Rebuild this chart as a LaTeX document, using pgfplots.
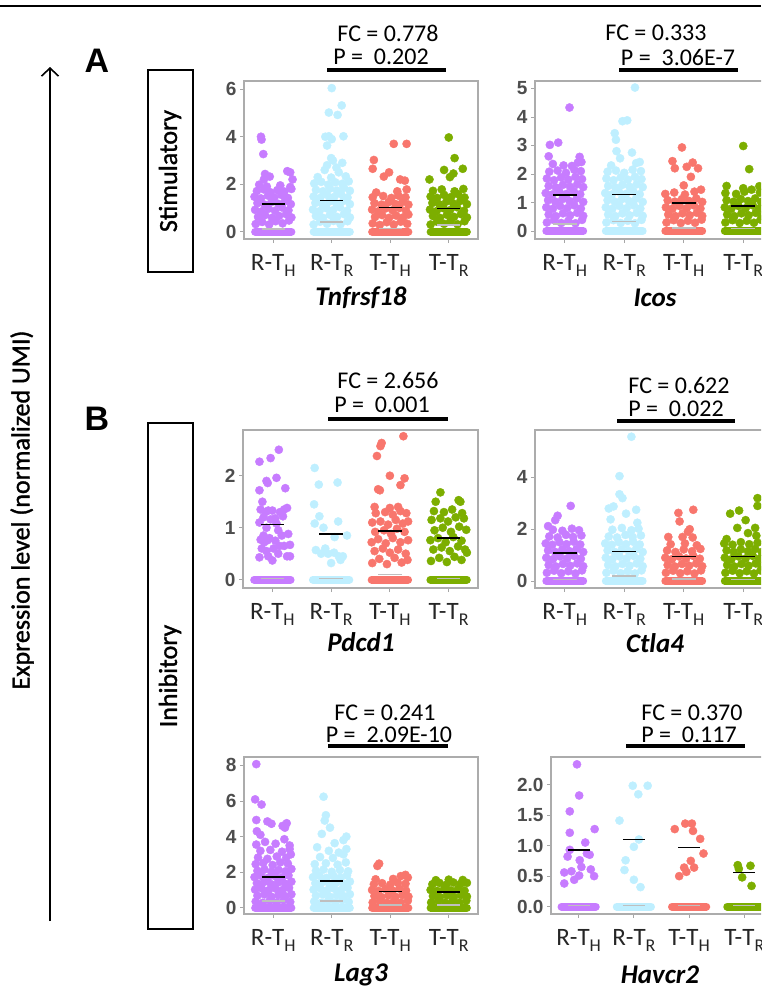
\documentclass[border=0pt]{standalone}
\usepackage{fontspec}
\setmainfont{Carlito}
\newfontfamily\tickfont{Liberation Sans}
\newfontfamily\semib{Carlito}[FakeBold=1.3]
\usepackage{pgfplots}
\pgfplotsset{compat=1.18}
\usetikzlibrary{arrows.meta}
\definecolor{cpur}{HTML}{C77CFF}
\definecolor{cblu}{HTML}{BFEFFF}
\definecolor{csal}{HTML}{F8766D}
\definecolor{cgrn}{HTML}{7CAE00}
\definecolor{tickgray}{HTML}{4D4D4D}
\newcommand\subs[1]{\raisebox{-6pt}{\fontsize{18}{18}\selectfont#1}}
\pgfplotsset{
  panel/.style={
    scale only axis, anchor=south west, clip=false, clip marker paths=true,
    xmin=0.5, xmax=4.5, xtick={1,2,3,4},
    xticklabels={R-T\subs{H},R-T\subs{R},T-T\subs{H},T-T\subs{R}},
    axis line style={draw=gray!65, line width=1.2pt},
    tick align=outside, major tick length=4pt,
    tick style={gray!70, line width=0.8pt},
    xtick pos=bottom, ytick pos=left,
    xticklabel style={font=\fontsize{25}{27}\selectfont, text=black!85, yshift=-8pt},
    yticklabel style={font=\tickfont\bfseries\fontsize{19}{21}\selectfont, text=tickgray},
    /pgf/number format/assume math mode=true,
  },
  pts/.style={only marks, mark=*, mark size=4.1pt, color=#1},
  zband/.style={draw=#1, line width=8pt, line cap=round},
  meanl/.style={black, line width=1.4pt},
  medl/.style={gray!50, line width=1.4pt},
}
\newcommand\fctext[3]{\node[font=\fontsize{24}{26}\selectfont] at (#1pt,-#2pt) {#3};}
\begin{document}
\begin{tikzpicture}
\useasboundingbox (0pt,0pt) rectangle (761pt,-988pt);
\clip (0pt,0pt) rectangle (761pt,-988pt);
\draw[line width=2.5pt] (0pt,-6pt) -- (761pt,-6pt);

% ---------- Tnfrsf18 ----------
\begin{axis}[panel, at={(244pt,-239pt)}, width=234pt, height=158pt,
  ymin=-0.31, ymax=6.35, ytick={0,2,4,6}]
\addplot[zband=cpur] coordinates {(0.69,0) (1.31,0)};
\addplot[zband=cblu] coordinates {(1.69,0) (2.31,0)};
\addplot[zband=csal] coordinates {(2.69,0) (3.31,0)};
\addplot[zband=cgrn] coordinates {(3.69,0) (4.31,0)};
\addplot[pts=cpur] coordinates {
(0.70,0.32)(0.81,0.41)(0.93,0.30)(1.04,0.44)(1.16,0.35)(1.27,0.47)
(0.74,0.62)(0.86,0.70)(0.98,0.58)(1.10,0.66)(1.22,0.74)(1.31,0.60)
(0.69,0.92)(0.80,0.85)(0.92,0.97)(1.03,0.88)(1.15,1.02)(1.26,0.90)
(0.73,1.20)(0.85,1.14)(0.97,1.25)(1.09,1.17)(1.20,1.28)(1.30,1.16)
(0.68,1.47)(0.79,1.40)(0.91,1.52)(1.02,1.44)(1.14,1.55)(1.25,1.42)
(0.72,1.71)(0.84,1.78)(0.95,1.66)(1.07,1.75)(1.19,1.69)(1.31,1.80)
(0.76,1.98)(0.89,1.90)(1.12,1.95)(1.29,1.88)
(0.84,2.20)(0.94,2.32)(0.86,2.43)(1.24,2.55)(1.29,2.50)(1.33,2.20)
(0.83,3.27)(0.79,4.00)(0.80,3.88)};
\addplot[pts=cblu] coordinates {
(1.69,0.30)(1.80,0.42)(1.92,0.33)(2.03,0.45)(2.15,0.31)(2.27,0.44)
(1.73,0.66)(1.85,0.58)(1.97,0.71)(2.09,0.62)(2.21,0.74)(2.31,0.60)
(1.68,0.93)(1.79,0.86)(1.91,0.99)(2.02,0.90)(2.14,1.03)(2.26,0.88)
(1.72,1.21)(1.84,1.15)(1.96,1.27)(2.08,1.18)(2.20,1.30)(2.31,1.16)
(1.69,1.48)(1.80,1.42)(1.92,1.55)(2.04,1.46)(2.16,1.58)(2.27,1.44)
(1.73,1.76)(1.85,1.70)(1.97,1.82)(2.09,1.73)(2.21,1.85)(2.31,1.72)
(1.70,2.03)(1.82,2.10)(1.94,1.98)(2.06,2.08)(2.18,2.02)(2.29,2.12)
(1.76,2.30)(1.99,2.28)(2.24,2.33)
(1.88,2.60)(2.12,2.50)(1.92,2.80)(2.08,2.70)(2.18,2.90)(1.99,3.10)(2.02,3.00)
(1.92,3.63)(1.89,4.00)(1.95,4.02)(2.00,3.90)(2.20,4.02)(1.95,5.02)(2.10,4.92)(2.17,5.32)(2.00,6.05)};
\addplot[pts=csal] coordinates {
(2.70,0.35)(2.82,0.28)(2.94,0.40)(3.06,0.30)(3.18,0.42)(3.29,0.33)
(2.74,0.62)(2.86,0.70)(2.98,0.58)(3.10,0.68)(3.22,0.60)(3.31,0.72)
(2.69,0.93)(2.80,0.86)(2.92,0.98)(3.04,0.90)(3.16,1.00)(3.27,0.88)
(2.73,1.20)(2.85,1.14)(2.97,1.24)(3.09,1.16)(3.21,1.26)(3.31,1.14)
(2.70,1.45)(2.88,1.50)(3.02,1.42)(3.14,1.52)(3.26,1.45)
(2.76,1.65)(3.12,1.70)(3.28,1.78)
(2.72,3.02)(2.70,2.65)(2.89,2.32)(2.98,2.50)(3.06,3.70)(3.28,3.70)(3.17,2.20)(3.25,2.15)};
\addplot[pts=cgrn] coordinates {
(3.69,0.30)(3.80,0.42)(3.92,0.33)(4.03,0.45)(4.15,0.31)(4.27,0.44)
(3.73,0.66)(3.85,0.58)(3.97,0.71)(4.09,0.62)(4.21,0.74)(4.31,0.60)
(3.68,0.93)(3.79,0.86)(3.91,0.99)(4.02,0.90)(4.14,1.03)(4.26,0.88)
(3.72,1.21)(3.84,1.15)(3.96,1.27)(4.08,1.18)(4.20,1.30)(4.31,1.16)
(3.69,1.48)(3.80,1.42)(3.92,1.55)(4.04,1.46)(4.16,1.58)(4.27,1.44)
(3.73,1.72)(3.88,1.78)(4.10,1.70)(4.25,1.80)
(3.67,2.20)(3.92,2.60)(4.00,3.97)(4.10,3.10)(4.08,2.45)(4.02,2.30)(4.24,2.65)};
\addplot[medl] coordinates {(0.8,0.12) (1.2,0.12)};
\addplot[medl] coordinates {(1.8,0.40) (2.2,0.40)};
\addplot[medl] coordinates {(2.8,0.14) (3.2,0.14)};
\addplot[medl] coordinates {(3.8,0.28) (4.2,0.28)};
\addplot[meanl] coordinates {(0.8,1.17) (1.2,1.17)};
\addplot[meanl] coordinates {(1.8,1.31) (2.2,1.31)};
\addplot[meanl] coordinates {(2.8,1.02) (3.2,1.02)};
\addplot[meanl] coordinates {(3.8,0.97) (4.2,0.97)};
\end{axis}

% ---------- Icos ----------
\begin{axis}[panel, at={(535pt,-239pt)}, width=238pt, height=158pt,
  ymin=-0.28, ymax=5.26, ytick={0,1,2,3,4,5}]
\addplot[zband=cpur] coordinates {(0.69,0) (1.31,0)};
\addplot[zband=cblu] coordinates {(1.69,0) (2.31,0)};
\addplot[zband=csal] coordinates {(2.69,0) (3.31,0)};
\addplot[zband=cgrn] coordinates {(3.69,0) (4.31,0)};
\addplot[pts=cpur] coordinates {
(0.70,0.30)(0.82,0.38)(0.94,0.28)(1.06,0.36)(1.18,0.27)(1.29,0.39)
(0.73,0.58)(0.85,0.52)(0.97,0.62)(1.09,0.55)(1.21,0.64)(1.31,0.53)
(0.69,0.83)(0.80,0.78)(0.92,0.88)(1.04,0.80)(1.16,0.90)(1.27,0.79)
(0.72,1.08)(0.84,1.03)(0.96,1.12)(1.08,1.05)(1.20,1.14)(1.31,1.02)
(0.68,1.33)(0.79,1.28)(0.91,1.38)(1.03,1.30)(1.15,1.40)(1.26,1.29)
(0.73,1.58)(0.85,1.53)(0.97,1.62)(1.09,1.55)(1.21,1.64)(1.31,1.54)
(0.70,1.84)(0.82,1.78)(0.94,1.88)(1.06,1.80)(1.18,1.90)(1.29,1.82)
(0.74,2.08)(0.88,2.12)(1.02,2.04)(1.16,2.15)(1.27,2.10)
(0.80,2.35)(0.98,2.30)(1.12,2.28)(1.22,2.40)(1.25,2.60)(1.28,2.42)
(0.75,3.02)(0.89,3.10)(1.08,4.33)(0.73,2.62)};
\addplot[pts=cblu] coordinates {
(1.70,0.30)(1.82,0.38)(1.94,0.28)(2.06,0.36)(2.18,0.27)(2.29,0.39)
(1.73,0.58)(1.85,0.52)(1.97,0.62)(2.09,0.55)(2.21,0.64)(2.31,0.53)
(1.69,0.83)(1.80,0.78)(1.92,0.88)(2.04,0.80)(2.16,0.90)(2.27,0.79)
(1.72,1.08)(1.84,1.03)(1.96,1.12)(2.08,1.05)(2.20,1.14)(2.31,1.02)
(1.68,1.33)(1.79,1.28)(1.91,1.38)(2.03,1.30)(2.15,1.40)(2.26,1.29)
(1.73,1.58)(1.85,1.53)(1.97,1.62)(2.09,1.55)(2.21,1.64)(2.31,1.54)
(1.70,1.84)(1.82,1.78)(1.94,1.88)(2.06,1.80)(2.18,1.90)(2.29,1.82)
(1.72,2.08)(1.86,2.12)(2.00,2.04)(2.14,2.15)(2.28,2.10)
(1.78,2.30)(2.20,2.38)(2.26,2.42)
(1.93,2.55)(2.13,2.75)(1.87,2.80)(1.84,3.43)(1.86,3.20)(1.97,3.85)(2.05,3.88)(2.18,5.03)};
\addplot[pts=csal] coordinates {
(2.71,0.30)(2.83,0.38)(2.95,0.28)(3.07,0.36)(3.19,0.29)(3.30,0.40)
(2.74,0.58)(2.86,0.52)(2.98,0.62)(3.10,0.55)(3.22,0.64)(3.31,0.53)
(2.70,0.83)(2.81,0.78)(2.93,0.88)(3.05,0.80)(3.17,0.90)(3.28,0.79)
(2.73,1.08)(2.85,1.03)(2.97,1.12)(3.09,1.05)(3.21,1.14)(3.31,1.02)
(2.69,1.30)(2.84,1.35)(3.02,1.28)(3.18,1.38)(3.29,1.45)
(3.00,1.60)(3.12,1.90)(2.81,2.45)(2.85,2.20)(3.05,2.25)(3.15,2.40)(2.97,2.93)(3.24,2.20)};
\addplot[pts=cgrn] coordinates {
(3.70,0.30)(3.82,0.38)(3.94,0.28)(4.06,0.36)(4.18,0.29)(4.29,0.40)
(3.73,0.58)(3.85,0.52)(3.97,0.62)(4.09,0.55)(4.21,0.64)(4.31,0.53)
(3.69,0.83)(3.80,0.78)(3.92,0.88)(4.04,0.80)(4.16,0.90)(4.27,0.79)
(3.72,1.08)(3.84,1.03)(3.96,1.12)(4.08,1.05)(4.20,1.14)(4.30,1.02)
(3.70,1.33)(3.88,1.30)(4.02,1.38)(4.14,1.45)(4.28,1.35)
(3.72,1.58)(4.00,1.50)(4.27,1.57)
(4.00,2.98)(4.10,2.17)};
\addplot[medl] coordinates {(0.8,0.25) (1.2,0.25)};
\addplot[medl] coordinates {(1.8,0.33) (2.2,0.33)};
\addplot[medl] coordinates {(2.8,0.10) (3.2,0.10)};
\addplot[medl] coordinates {(3.8,0.08) (4.2,0.08)};
\addplot[meanl] coordinates {(0.8,1.26) (1.2,1.26)};
\addplot[meanl] coordinates {(1.8,1.27) (2.2,1.27)};
\addplot[meanl] coordinates {(2.8,0.98) (3.2,0.98)};
\addplot[meanl] coordinates {(3.8,0.88) (4.2,0.88)};
\end{axis}

% ---------- Pdcd1 ----------
\begin{axis}[panel, at={(243pt,-588pt)}, width=235pt, height=158pt,
  ymin=-0.16, ymax=2.88, ytick={0,1,2}]
\addplot[zband=cpur] coordinates {(0.69,0) (1.31,0)};
\addplot[zband=cblu] coordinates {(1.69,0) (2.31,0)};
\addplot[zband=csal] coordinates {(2.69,0) (3.31,0)};
\addplot[zband=cgrn] coordinates {(3.69,0) (4.31,0)};
\addplot[pts=cpur] coordinates {
(1.11,2.50)(0.78,2.27)(0.97,2.34)(0.92,1.86)(0.90,1.90)(1.07,1.96)(1.22,1.76)(0.78,1.72)
(0.83,1.50)(0.80,1.35)(0.88,1.30)(0.93,1.33)(1.00,1.33)(1.13,1.30)(1.20,1.35)(1.25,1.38)
(0.85,1.20)(0.97,1.16)(1.05,1.18)(1.18,1.22)(0.78,1.10)(0.90,1.00)(1.10,0.95)(1.27,0.88)
(0.80,0.77)(0.86,0.72)(0.92,0.76)(0.95,0.80)(1.05,0.75)(1.16,0.85)(1.12,0.65)(0.82,0.60)
(0.90,0.55)(1.02,0.60)(1.20,0.65)(1.30,0.67)(0.78,0.43)(0.93,0.45)(1.00,0.37)(1.10,0.50)
(1.25,0.45)(1.30,0.45)(0.85,0.85)(1.07,1.08)};
\addplot[pts=cblu] coordinates {
(1.72,2.15)(2.11,1.87)(1.79,1.83)(1.71,1.45)(1.80,1.22)(1.72,1.08)(1.87,1.00)(2.12,1.12)
(2.27,0.85)(2.06,0.82)(1.90,0.60)(2.05,0.52)(2.13,0.45)(1.74,0.57)(1.83,0.50)(1.95,0.50)
(2.20,0.45)(2.00,0.32)(2.16,0.38)};
\addplot[pts=csal] coordinates {
(3.23,2.76)(2.86,2.63)(2.84,2.57)(2.78,2.38)(3.00,2.00)(3.25,1.95)(3.18,1.82)(2.83,1.72)(2.80,1.74)
(2.70,0.32)(2.82,0.40)(2.95,0.30)(3.08,0.42)(3.20,0.33)(3.30,0.38)
(2.74,0.55)(2.88,0.60)(3.00,0.52)(3.14,0.58)(3.27,0.50)
(2.69,0.72)(2.80,0.78)(2.93,0.70)(3.05,0.80)(3.18,0.72)(3.31,0.76)
(2.75,0.92)(2.90,0.95)(3.02,0.88)(3.12,0.98)(3.25,0.92)
(2.70,1.10)(2.84,1.12)(2.97,1.06)(3.10,1.15)(3.22,1.08)(3.31,1.12)
(2.76,1.28)(2.92,1.30)(3.05,1.25)(3.18,1.32)(3.28,1.28)
(2.74,1.40)(3.00,1.38)(3.14,1.40)};
\addplot[pts=cgrn] coordinates {
(3.86,1.68)(4.17,1.53)(4.20,1.50)(3.78,1.50)
(3.70,0.36)(3.84,0.42)(3.97,0.34)(4.10,0.44)(4.22,0.38)(4.31,0.52)
(3.74,0.58)(3.88,0.62)(4.02,0.55)(4.16,0.64)(4.28,0.58)
(3.69,0.76)(3.82,0.80)(3.95,0.72)(4.08,0.82)(4.22,0.75)
(3.76,0.95)(3.90,1.00)(4.04,0.92)(4.18,1.02)(4.30,0.96)
(3.71,1.15)(3.86,1.18)(3.99,1.12)(4.12,1.20)(4.26,1.18)
(3.75,1.32)(3.92,1.30)(4.06,1.35)(4.23,1.28)};
\addplot[medl] coordinates {(0.8,0.02) (1.2,0.02)};
\addplot[medl] coordinates {(1.8,0.02) (2.2,0.02)};
\addplot[medl] coordinates {(2.8,0.10) (3.2,0.10)};
\addplot[medl] coordinates {(3.8,0.02) (4.2,0.02)};
\addplot[meanl] coordinates {(0.8,1.06) (1.2,1.06)};
\addplot[meanl] coordinates {(1.8,0.88) (2.2,0.88)};
\addplot[meanl] coordinates {(2.8,0.94) (3.2,0.94)};
\addplot[meanl] coordinates {(3.8,0.80) (4.2,0.80)};
\end{axis}

% ---------- Ctla4 ----------
\begin{axis}[panel, at={(535pt,-588pt)}, width=238pt, height=158pt,
  ymin=-0.27, ymax=5.83, ytick={0,2,4}]
\addplot[zband=cpur] coordinates {(0.69,0) (1.31,0)};
\addplot[zband=cblu] coordinates {(1.69,0) (2.31,0)};
\addplot[zband=csal] coordinates {(2.69,0) (3.31,0)};
\addplot[zband=cgrn] coordinates {(3.69,0) (4.31,0)};
\addplot[pts=cpur] coordinates {
(0.70,0.32)(0.82,0.40)(0.94,0.30)(1.06,0.38)(1.18,0.29)(1.29,0.41)
(0.73,0.62)(0.85,0.56)(0.97,0.66)(1.09,0.59)(1.21,0.68)(1.31,0.57)
(0.69,0.90)(0.80,0.84)(0.92,0.95)(1.04,0.87)(1.16,0.97)(1.27,0.86)
(0.72,1.18)(0.84,1.12)(0.96,1.22)(1.08,1.15)(1.20,1.24)(1.31,1.12)
(0.68,1.45)(0.79,1.40)(0.91,1.50)(1.03,1.42)(1.15,1.52)(1.26,1.41)
(0.74,1.72)(0.88,1.68)(1.02,1.78)(1.14,1.70)(1.28,1.76)
(0.80,1.98)(0.96,1.94)(1.12,2.02)(1.24,1.96)
(0.72,2.12)(0.88,2.52)(0.84,2.35)(1.10,2.90)};
\addplot[pts=cblu] coordinates {
(1.70,0.32)(1.82,0.40)(1.94,0.30)(2.06,0.38)(2.18,0.29)(2.29,0.41)
(1.73,0.62)(1.85,0.56)(1.97,0.66)(2.09,0.59)(2.21,0.68)(2.31,0.57)
(1.69,0.90)(1.80,0.84)(1.92,0.95)(2.04,0.87)(2.16,0.97)(2.27,0.86)
(1.72,1.18)(1.84,1.12)(1.96,1.22)(2.08,1.15)(2.20,1.24)(2.31,1.12)
(1.68,1.45)(1.79,1.40)(1.91,1.50)(2.03,1.42)(2.15,1.52)(2.26,1.41)
(1.74,1.72)(1.88,1.68)(2.02,1.78)(2.14,1.70)(2.28,1.76)
(1.80,1.98)(1.96,2.05)(2.12,1.96)(2.24,2.02)
(2.12,5.57)(1.92,4.05)(1.92,3.35)(1.97,3.20)(1.74,2.80)(1.82,2.88)(2.20,2.75)(2.03,2.60)(1.77,2.38)(2.22,2.25)};
\addplot[pts=csal] coordinates {
(2.70,0.32)(2.82,0.40)(2.94,0.30)(3.06,0.38)(3.18,0.29)(3.29,0.41)
(2.73,0.62)(2.85,0.56)(2.97,0.66)(3.09,0.59)(3.21,0.68)(3.31,0.57)
(2.69,0.90)(2.80,0.84)(2.92,0.95)(3.04,0.87)(3.16,0.97)(3.27,0.86)
(2.72,1.18)(2.86,1.12)(3.00,1.22)(3.14,1.15)(3.28,1.24)
(2.78,1.42)(3.02,1.45)(3.22,1.38)
(2.91,2.63)(3.16,2.75)(2.93,2.30)(3.10,2.00)(3.07,1.90)(2.74,1.70)(2.98,1.70)(3.15,1.68)};
\addplot[pts=cgrn] coordinates {
(3.70,0.32)(3.82,0.40)(3.94,0.30)(4.06,0.38)(4.18,0.29)(4.29,0.41)
(3.73,0.62)(3.85,0.56)(3.97,0.66)(4.09,0.59)(4.21,0.68)(4.31,0.57)
(3.69,0.90)(3.80,0.84)(3.92,0.95)(4.04,0.87)(4.16,0.97)(4.27,0.86)
(3.72,1.18)(3.84,1.12)(3.96,1.22)(4.08,1.15)(4.20,1.24)(4.31,1.12)
(3.68,1.45)(3.82,1.40)(3.96,1.50)(4.10,1.42)(4.24,1.48)
(3.78,2.60)(3.93,2.72)(4.24,3.20)(4.24,2.90)(4.04,2.35)(3.90,2.05)(4.20,2.05)(4.08,1.85)(4.22,1.75)(3.72,1.62)};
\addplot[medl] coordinates {(0.8,0.05) (1.2,0.05)};
\addplot[medl] coordinates {(1.8,0.20) (2.2,0.20)};
\addplot[medl] coordinates {(2.8,0.08) (3.2,0.08)};
\addplot[medl] coordinates {(3.8,0.05) (4.2,0.05)};
\addplot[meanl] coordinates {(0.8,1.08) (1.2,1.08)};
\addplot[meanl] coordinates {(1.8,1.15) (2.2,1.15)};
\addplot[meanl] coordinates {(2.8,0.95) (3.2,0.95)};
\addplot[meanl] coordinates {(3.8,0.95) (4.2,0.95)};
\end{axis}

% ---------- Lag3 ----------
\begin{axis}[panel, at={(244pt,-914pt)}, width=234pt, height=157pt,
  ymin=-0.35, ymax=8.47, ytick={0,2,4,6,8}]
\addplot[zband=cpur] coordinates {(0.69,0) (1.31,0)};
\addplot[zband=cblu] coordinates {(1.69,0) (2.31,0)};
\addplot[zband=csal] coordinates {(2.69,0) (3.31,0)};
\addplot[zband=cgrn] coordinates {(3.69,0) (4.31,0)};
\addplot[pts=cpur] coordinates {
(0.70,0.35)(0.82,0.28)(0.94,0.40)(1.06,0.30)(1.18,0.42)(1.29,0.33)
(0.73,0.68)(0.85,0.75)(0.97,0.62)(1.09,0.72)(1.21,0.65)(1.31,0.76)
(0.69,1.02)(0.80,1.10)(0.92,0.98)(1.04,1.08)(1.16,1.00)(1.27,1.12)
(0.72,1.38)(0.84,1.45)(0.96,1.33)(1.08,1.42)(1.20,1.36)(1.31,1.47)
(0.68,1.72)(0.79,1.80)(0.91,1.68)(1.03,1.78)(1.15,1.70)(1.26,1.82)
(0.73,2.08)(0.85,2.15)(0.97,2.02)(1.09,2.12)(1.21,2.05)(1.31,2.18)
(0.70,2.45)(0.83,2.52)(0.99,2.40)(1.12,2.55)(1.25,2.48)
(0.74,2.82)(0.90,2.75)(1.06,2.88)(1.22,2.80)(1.30,3.00)
(0.78,3.20)(0.95,3.25)(1.15,3.15)(1.28,3.30)
(0.71,3.55)(0.86,3.70)(1.04,3.60)(1.19,3.85)(1.28,3.50)
(0.78,4.10)(0.72,4.30)(0.90,4.85)(0.97,4.72)(1.16,4.60)(1.23,4.75)(1.20,4.50)
(0.71,4.93)(0.80,5.80)(0.69,6.09)(0.71,8.07)};
\addplot[pts=cblu] coordinates {
(1.70,0.35)(1.82,0.28)(1.94,0.40)(2.06,0.30)(2.18,0.42)(2.29,0.33)
(1.73,0.68)(1.85,0.75)(1.97,0.62)(2.09,0.72)(2.21,0.65)(2.31,0.76)
(1.69,1.02)(1.80,1.10)(1.92,0.98)(2.04,1.08)(2.16,1.00)(2.27,1.12)
(1.72,1.38)(1.84,1.45)(1.96,1.33)(2.08,1.42)(2.20,1.36)(2.31,1.47)
(1.68,1.72)(1.79,1.80)(1.91,1.68)(2.03,1.78)(2.15,1.70)(2.26,1.82)
(1.73,2.08)(1.86,2.15)(2.00,2.02)(2.14,2.12)(2.28,2.05)
(1.71,2.45)(1.90,2.50)(2.10,2.42)(2.24,2.55)
(1.80,2.85)(2.02,2.80)(2.20,3.00)(1.75,3.40)(1.95,3.20)(2.12,3.10)(2.25,3.30)
(2.05,3.63)(2.20,3.80)(2.25,4.00)(1.83,4.15)(1.97,4.50)(1.88,4.90)(1.90,5.20)(1.86,6.24)};
\addplot[pts=csal] coordinates {
(2.70,0.30)(2.82,0.38)(2.94,0.28)(3.06,0.36)(3.18,0.29)(3.30,0.40)
(2.73,0.66)(2.85,0.60)(2.97,0.70)(3.09,0.62)(3.21,0.72)(3.31,0.63)
(2.69,1.00)(2.80,0.95)(2.92,1.05)(3.04,0.97)(3.16,1.07)(3.27,0.96)
(2.72,1.32)(2.86,1.38)(3.00,1.30)(3.13,1.40)(3.26,1.35)
(2.75,1.60)(3.05,1.62)(3.18,1.78)(3.26,1.85)(3.30,1.70)
(2.78,2.35)(2.81,2.48)};
\addplot[pts=cgrn] coordinates {
(3.70,0.30)(3.82,0.38)(3.94,0.28)(4.06,0.36)(4.18,0.29)(4.30,0.40)
(3.73,0.66)(3.85,0.60)(3.97,0.70)(4.09,0.62)(4.21,0.72)(4.31,0.63)
(3.69,1.00)(3.80,0.95)(3.92,1.05)(4.04,0.97)(4.16,1.07)(4.27,0.96)
(3.72,1.32)(3.84,1.40)(3.96,1.30)(4.08,1.42)(4.20,1.34)(4.31,1.40)
(3.78,1.55)(4.00,1.58)(4.24,1.56)};
\addplot[medl] coordinates {(0.8,0.38) (1.2,0.38)};
\addplot[medl] coordinates {(1.8,0.38) (2.2,0.38)};
\addplot[medl] coordinates {(2.8,0.15) (3.2,0.15)};
\addplot[medl] coordinates {(3.8,0.15) (4.2,0.15)};
\addplot[meanl] coordinates {(0.8,1.72) (1.2,1.72)};
\addplot[meanl] coordinates {(1.8,1.50) (2.2,1.50)};
\addplot[meanl] coordinates {(2.8,0.90) (3.2,0.90)};
\addplot[meanl] coordinates {(3.8,0.88) (4.2,0.88)};
\end{axis}

% ---------- Havcr2 ----------
\begin{axis}[panel, at={(551pt,-914pt)}, width=221pt, height=157pt,
  ymin=-0.12, ymax=2.45, ytick={0,0.5,1,1.5,2},
  yticklabel style={/pgf/number format/.cd, fixed, fixed zerofill, precision=1}]
\addplot[zband=cpur] coordinates {(0.69,0) (1.31,0)};
\addplot[zband=cblu] coordinates {(1.69,0) (2.31,0)};
\addplot[zband=csal] coordinates {(2.69,0) (3.31,0)};
\addplot[zband=cgrn] coordinates {(3.69,0) (4.31,0)};
\addplot[pts=cpur] coordinates {
(0.97,2.33)(1.01,1.82)(0.84,1.56)(0.84,1.21)(1.29,1.27)(1.12,1.05)(0.84,0.93)(0.80,0.82)
(1.15,0.87)(1.20,0.85)(1.02,0.76)(1.05,0.65)(0.74,0.56)(0.87,0.58)(1.22,0.61)(1.01,0.51)
(1.28,0.50)(0.92,0.44)(0.74,0.38)};
\addplot[pts=cblu] coordinates {
(1.98,1.98)(2.25,1.98)(2.08,1.84)(1.74,1.41)(2.09,1.10)(2.00,0.98)(1.85,0.76)(1.83,0.60)
(2.00,0.44)(2.12,0.32)};
\addplot[pts=csal] coordinates {
(2.74,1.27)(2.93,1.36)(3.05,1.36)(3.07,1.24)(3.20,1.11)(3.26,0.87)(3.03,0.75)(2.91,0.64)
(3.09,0.64)(2.95,0.57)(2.82,0.50)};
\addplot[pts=cgrn] coordinates {
(3.88,0.68)(4.11,0.67)(3.90,0.62)(3.96,0.48)(4.13,0.34)};
\addplot[medl] coordinates {(0.8,0.02) (1.2,0.02)};
\addplot[medl] coordinates {(1.8,0.02) (2.2,0.02)};
\addplot[medl] coordinates {(2.8,0.02) (3.2,0.02)};
\addplot[medl] coordinates {(3.8,0.02) (4.2,0.02)};
\addplot[meanl] coordinates {(0.8,0.93) (1.2,0.93)};
\addplot[meanl] coordinates {(1.8,1.10) (2.2,1.10)};
\addplot[meanl] coordinates {(2.8,0.97) (3.2,0.97)};
\addplot[meanl] coordinates {(3.8,0.56) (4.2,0.56)};
\end{axis}

% ---------- annotations ----------
\fctext{388}{33}{FC = 0.778}\fctext{381}{57}{P =\ \ 0.202}
\fctext{656}{33}{FC = 0.333}\fctext{678}{57}{P =\ \ 3.06E-7}
\fctext{388}{380}{FC = 2.656}\fctext{382}{405}{P =\ \ 0.001}
\fctext{679}{385}{FC = 0.622}\fctext{676}{409}{P =\ \ 0.022}
\fctext{385}{713}{FC = 0.241}\fctext{389}{735}{P =\ \ 2.09E-10}
\fctext{692}{713}{FC = 0.370}\fctext{689}{735}{P =\ \ 0.117}
\foreach \a/\b/\yy in {327/446/70, 619/738/70, 328/448/419, 617/735/421, 328/448/746, 626/745/746}
  \draw[line width=4.3pt] (\a pt,-\yy pt) -- (\b pt,-\yy pt);

\foreach \nm/\xx/\yy in {Tnfrsf18/361/298, Icos/655/298, Pdcd1/361/642, Ctla4/655/643, Lag3/361/975, Havcr2/660/975}
  \node[font=\fontsize{27}{29}\selectfont\bfseries\itshape, inner sep=1pt] at (\xx pt,-\yy pt) {\nm};

\node[font=\tickfont\bfseries\fontsize{34}{36}\selectfont] at (97pt,-61pt) {A};
\node[font=\tickfont\bfseries\fontsize{34}{36}\selectfont] at (97pt,-419pt) {B};
\draw[line width=1.6pt, -{Straight Barb[length=8pt,width=17pt,line width=1.6pt]}] (50pt,-921pt) -- (50pt,-67pt);
\node[rotate=90, font=\semib\fontsize{26}{28}\selectfont] at (22pt,-510pt) {Expression level (normalized UMI)};
\draw[line width=1.2pt] (148pt,-70pt) rectangle (193pt,-272pt);
\node[rotate=90, font=\semib\fontsize{26}{28}\selectfont] at (170pt,-171pt) {Stimulatory};
\draw[line width=1.2pt] (148pt,-423pt) rectangle (193pt,-929pt);
\node[rotate=90, font=\semib\fontsize{26}{28}\selectfont] at (170pt,-676pt) {Inhibitory};
\end{tikzpicture}
\end{document}
